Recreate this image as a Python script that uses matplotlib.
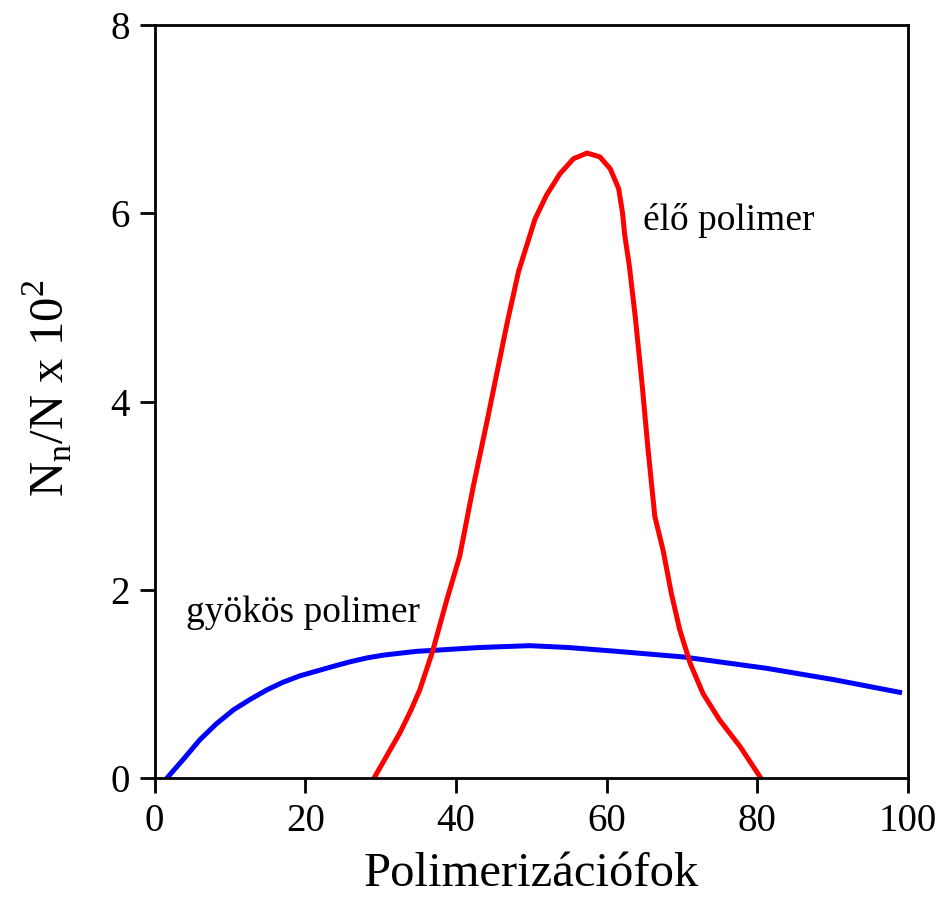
import matplotlib
matplotlib.use('Agg')
import matplotlib.pyplot as plt

plt.rcParams['font.family'] = ['Liberation Serif', 'DejaVu Serif']
plt.rcParams['mathtext.fontset'] = 'custom'
plt.rcParams['mathtext.rm'] = 'Liberation Serif'

# living polymer distribution (degree of polymerization, Nn/N x 100)
elo_x = [29.1, 32.6, 34.0, 35.2, 36.9, 38.8, 40.5, 42.3, 44.2, 46.7, 48.3,
         49.4, 50.5, 52.0, 53.8, 55.6, 57.4, 59.1, 60.5, 61.6, 62.1, 62.4,
         63.0, 63.8, 64.7, 65.5, 66.4, 67.5, 68.6, 69.7, 71.1, 72.8, 75.0,
         77.7, 80.5]
elo_y = [0.0, 0.49, 0.72, 0.94, 1.35, 1.90, 2.36, 3.10, 3.82, 4.80, 5.38,
         5.66, 5.94, 6.19, 6.42, 6.58, 6.64, 6.60, 6.47, 6.26, 6.01, 5.77,
         5.45, 4.90, 4.19, 3.49, 2.78, 2.42, 1.96, 1.58, 1.22, 0.90, 0.62,
         0.34, 0.0]

# radical polymer distribution
gyok_x = [1.6, 4.0, 6.0, 8.2, 10.5, 12.7, 14.9, 17.0, 19.3, 21.5, 23.7,
          26.0, 28.2, 30.4, 32.6, 34.8, 37.0, 43.0, 49.8, 55.0, 61.3, 70.2,
          81.2, 90.1, 99.2]
gyok_y = [0.0, 0.22, 0.41, 0.58, 0.73, 0.84, 0.94, 1.02, 1.09, 1.14, 1.19,
          1.24, 1.28, 1.31, 1.33, 1.35, 1.36, 1.39, 1.41, 1.39, 1.35, 1.29,
          1.17, 1.05, 0.91]

x_ticks = [0, 20, 40, 60, 80, 100]
y_ticks = [0, 2, 4, 6, 8]

fig = plt.figure(figsize=(9.4, 8.98), dpi=100)
ax = fig.add_axes([0.1644, 0.1331, 0.8016, 0.8391])

ax.plot(gyok_x, gyok_y, color='#0000ff', linewidth=3.6,
        solid_capstyle='butt', solid_joinstyle='round')
ax.plot(elo_x, elo_y, color='#ff0000', linewidth=3.6,
        solid_capstyle='butt', solid_joinstyle='round')

ax.text(4.2, 1.66, 'gyökös polimer', fontsize=27, ha='left', va='baseline')
ax.text(64.8, 5.82, 'élő polimer', fontsize=27, ha='left', va='baseline')

ax.set_xlim(0, 100)
ax.set_ylim(0, 8)
ax.set_xticks(x_ticks)
ax.set_yticks(y_ticks)
ax.tick_params(direction='out', length=11, width=2, labelsize=28, pad=7,
               top=False, right=False)
for sp in ax.spines.values():
    sp.set_linewidth(2)

ax.set_xlabel('Polimerizációfok', fontsize=35, labelpad=8)
ax.set_ylabel(r'N$_\mathregular{n}$/N x 10$^\mathregular{2}$', fontsize=35, labelpad=26)
ax.yaxis.label.set_y(0.518)

fig.savefig('out.png', dpi=100)
